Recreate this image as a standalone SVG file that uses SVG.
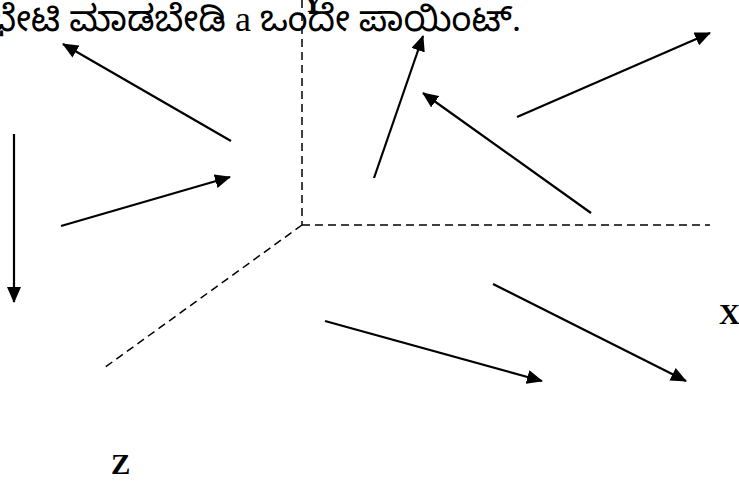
<svg xmlns="http://www.w3.org/2000/svg" width="739" height="487" viewBox="0 0 739 487">
<style>
.axis{stroke:#000;stroke-width:1.5;stroke-dasharray:8 5;fill:none}
.arr{stroke:#000;stroke-width:2.2;fill:none;marker-end:url(#ah)}
.lbl{font-family:"Liberation Serif","Times New Roman",serif;font-weight:bold;font-size:29px;fill:#000}
.kn{font-family:"Liberation Serif","Noto Sans Kannada","Noto Serif Kannada","Lohit Kannada",serif;font-size:36px;fill:#000}
</style>
<defs>
<marker id="ah" markerUnits="userSpaceOnUse" markerWidth="16" markerHeight="14" refX="15" refY="7" orient="auto">
<path d="M0,0 L16,7 L0,14 Z" fill="#000"/>
</marker>
</defs>
<rect width="739" height="487" fill="#fff"/>
<g id="axes">
<line class="axis" x1="302" y1="0" x2="302" y2="225"/>
<line class="axis" x1="302" y1="225" x2="710" y2="225"/>
<line class="axis" x1="302" y1="225" x2="104" y2="368"/>
</g>
<g id="title"><text class="kn" x="521" y="31" text-anchor="end">ಭೇಟಿ ಮಾಡಬೇಡಿ a ಒಂದೇ ಪಾಯಿಂಟ್.</text></g>
<g id="label-y"><text class="lbl" x="313" y="12" text-anchor="middle">Y</text></g>
<g id="label-x"><text class="lbl" x="719" y="324">X</text></g>
<g id="label-z"><text class="lbl" x="111" y="474">Z</text></g>
<g id="connectors">
<line class="arr" x1="231" y1="141" x2="63" y2="44"/>
<line class="arr" x1="14" y1="134" x2="14" y2="302"/>
<line class="arr" x1="61" y1="226" x2="230" y2="177"/>
<line class="arr" x1="374" y1="178" x2="423" y2="36"/>
<line class="arr" x1="591" y1="213" x2="423" y2="93"/>
<line class="arr" x1="517" y1="117" x2="710" y2="33"/>
<line class="arr" x1="325" y1="321" x2="542" y2="381"/>
<line class="arr" x1="493" y1="284" x2="686" y2="381"/>
</g>
</svg>
